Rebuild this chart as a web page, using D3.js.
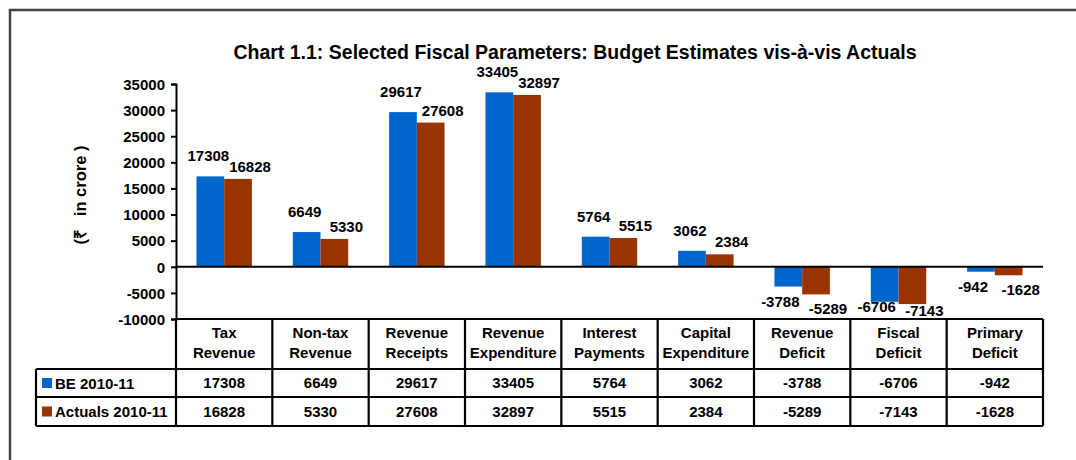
<!DOCTYPE html>
<meta charset="utf-8">
<style>
  body { margin: 0; background: #fff; }
  text { font-family: Arial, "Liberation Sans", sans-serif; font-weight: bold; fill: #000; }
</style>
<div id="container"></div>
<script src="https://cdn.jsdelivr.net/npm/d3@7"></script>
<script>

const categories = ['Tax Revenue', 'Non-tax Revenue', 'Revenue Receipts', 'Revenue Expenditure',
  'Interest Payments', 'Capital Expenditure', 'Revenue Deficit', 'Fiscal Deficit', 'Primary Deficit'];
const beValues = [17308, 6649, 29617, 33405, 5764, 3062, -3788, -6706, -942];
const actualValues = [16828, 5330, 27608, 32897, 5515, 2384, -5289, -7143, -1628];
const seriesNames = ['BE 2010-11', 'Actuals 2010-11'];
const yTicks = [-10000, -5000, 0, 5000, 10000, 15000, 20000, 25000, 30000, 35000];

const BLUE = '#0066CC', BROWN = '#993300';
const FS = '15px';

const width = 1076, height = 460;
const plotLeft = 176, plotRight = 1043, plotTop = 84, plotBottom = 319;
const rowH = [50, 28, 29];   // header, BE, actuals
const legendLeft = 36;

const svg = d3.create('svg').attr('width', width).attr('height', height);

// outer frame
svg.append('rect').attr('x', 10).attr('y', 10).attr('width', width + 20).attr('height', height + 20)
  .attr('fill', 'none').attr('stroke', '#444').attr('stroke-width', 2.5);

svg.append('text').attr('x', 575).attr('y', 59).attr('text-anchor', 'middle')
  .style('font-size', '19.5px')
  .text('Chart 1.1: Selected Fiscal Parameters: Budget Estimates vis-à-vis Actuals');

const x = d3.scaleBand().domain(categories).range([plotLeft, plotRight]).padding(0);
const y = d3.scaleLinear().domain([-10000, 35000]).range([plotBottom, plotTop]);
const barW = 27.7;

// y axis
const yAxis = svg.append('g').attr('transform', `translate(${plotLeft},0)`)
  .call(d3.axisLeft(y).tickValues(yTicks).tickSize(5).tickPadding(6).tickFormat(d => String(d)));
yAxis.select('.domain').attr('stroke', '#000').attr('stroke-width', 2);
yAxis.selectAll('.tick line').attr('stroke', '#000').attr('stroke-width', 2);
yAxis.selectAll('.tick text').style('font-size', FS).attr('fill', '#000')
  .attr('font-family', null).attr('dy', '0.35em');

svg.append('text')
  .attr('transform', `translate(86,195) rotate(-90)`)
  .attr('text-anchor', 'middle').style('font-size', '16.5px').style('white-space', 'pre')
  .text('(\u20B9   in crore )');

// bars
const series = [beValues, actualValues];
const colors = [BLUE, BROWN];
series.forEach((vals, si) => {
  svg.append('g').selectAll('rect').data(vals).enter().append('rect')
    .attr('x', (d, i) => x(categories[i]) + x.bandwidth() / 2 - barW + si * barW)
    .attr('width', barW)
    .attr('y', d => y(Math.max(0, d)))
    .attr('height', d => Math.abs(y(d) - y(0)))
    .attr('fill', colors[si]);
});

// zero line
svg.append('line').attr('x1', plotLeft).attr('x2', plotRight)
  .attr('y1', y(0)).attr('y2', y(0)).attr('stroke', '#000').attr('stroke-width', 2);

// data labels
series.forEach((vals, si) => {
  svg.append('g').selectAll('text').data(vals).enter().append('text')
    .attr('text-anchor', 'middle').style('font-size', FS)
    .attr('x', (d, i) => {
      const c = x(categories[i]) + x.bandwidth() / 2 - barW / 2 + si * barW;
      if (d >= 0) return c + (si === 0 ? -2 : 12);
      return c + (si === 0 ? -8 : 12);
    })
    .attr('y', d => d >= 0 ? y(d) - (si === 0 ? 15 : 7)
      : Math.min(y(d) + 20, plotBottom - (si === 0 ? 7 : 3)))
    .text(d => d);
});

// data table
const tTop = plotBottom;
const r1 = tTop + rowH[0], r2 = r1 + rowH[1], r3 = r2 + rowH[2];
const tbl = svg.append('g').attr('stroke', '#000').attr('stroke-width', 2.2);
tbl.append('line').attr('x1', plotLeft).attr('x2', plotRight).attr('y1', tTop).attr('y2', tTop);
[r1, r2, r3].forEach(yy => tbl.append('line').attr('x1', legendLeft).attr('x2', plotRight).attr('y1', yy).attr('y2', yy));
tbl.append('line').attr('x1', legendLeft).attr('x2', legendLeft).attr('y1', r1).attr('y2', r3);
tbl.selectAll('.col').data(categories.concat([null])).enter().append('line')
  .attr('x1', (d, i) => plotLeft + i * x.bandwidth()).attr('x2', (d, i) => plotLeft + i * x.bandwidth())
  .attr('y1', tTop).attr('y2', r3);

// header labels
categories.forEach(c => {
  const parts = [c.slice(0, c.indexOf(' ')), c.slice(c.indexOf(' ') + 1)];
  const cx = x(c) + x.bandwidth() / 2;
  parts.forEach((p, k) => {
    svg.append('text').attr('x', cx).attr('y', tTop + 19 + k * 20)
      .attr('text-anchor', 'middle').style('font-size', FS).text(p);
  });
});

// table values + legend
series.forEach((vals, si) => {
  const base = si === 0 ? r1 : r2;
  const hh = rowH[si + 1];
  svg.append('rect').attr('x', 42).attr('y', base + hh / 2 - 5).attr('width', 10).attr('height', 10)
    .attr('fill', colors[si]);
  svg.append('text').attr('x', 55).attr('y', base + hh / 2 + 5.5)
    .style('font-size', FS).text(seriesNames[si]);
  svg.append('g').selectAll('text').data(vals).enter().append('text')
    .attr('x', (d, i) => x(categories[i]) + x.bandwidth() / 2)
    .attr('y', base + hh / 2 + 5)
    .attr('text-anchor', 'middle').style('font-size', FS)
    .text(d => d);
});

container.append(svg.node());
</script>
